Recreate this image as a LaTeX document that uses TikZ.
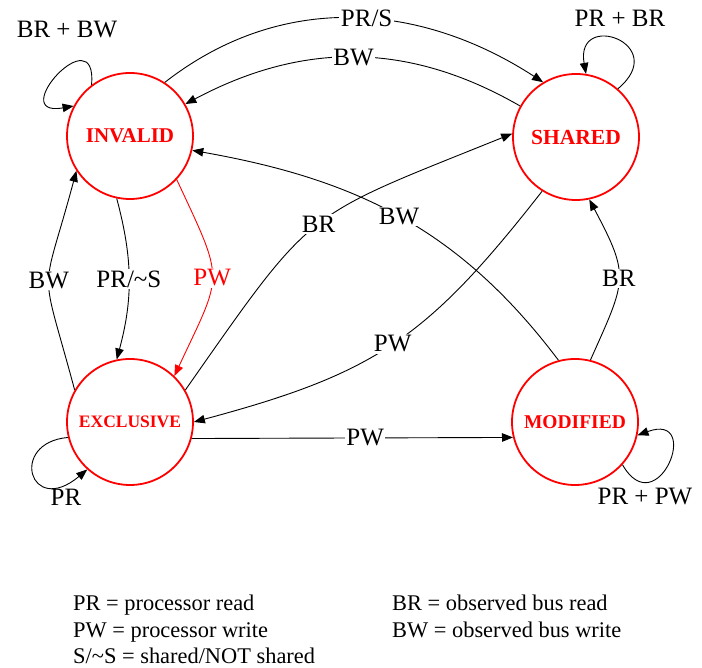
\documentclass[tikz,border=0pt]{standalone}
\usepackage{fontspec}
\setmainfont{Liberation Serif}
\usetikzlibrary{arrows.meta}
\begin{document}
\begin{tikzpicture}[x=1pt,y=1pt,
  state/.style={circle,draw=red,line width=1.8pt,minimum size=126pt,inner sep=0pt,text=red},
  edge/.style={line width=0.9pt,-{Triangle[length=11pt,width=8.5pt]}},
  lbl/.style={font=\fontsize{25}{25}\selectfont,fill=white,inner sep=1.5pt},
  free/.style={font=\fontsize{25}{25}\selectfont,inner sep=0pt},
  leg/.style={font=\fontsize{22.4}{24}\selectfont,anchor=base west,inner sep=0pt}]
\useasboundingbox (0,0) rectangle (702,668);
% states
\node[state,font=\bfseries\fontsize{21}{21}\selectfont] (inv) at (130,532) {INVALID};
\node[state,font=\bfseries\fontsize{21.5}{21.5}\selectfont] (shr) at (576,531) {SHARED};
\node[state,font=\bfseries\fontsize{17.5}{17.5}\selectfont] (exc) at (130,246) {EXCLUSIVE};
\node[state,font=\bfseries\fontsize{19.5}{19.5}\selectfont] (mod) at (575,246) {MODIFIED};
% top arcs
\draw[edge] (inv.57) to[out=38,in=147] node[lbl,pos=0.54]{PR/S} (shr.121);
\draw[edge] (shr.151) to[out=150,in=28] node[lbl,pos=0.5]{BW} (inv.30);
% self loops
\draw[edge] (inv.127) .. controls +(85:70) and +(190:70) .. (inv.152);
\node[free] (lbbrbw) at (67,638) {BR + BW};
\draw[edge] (shr.49) .. controls +(40:70) and +(100:65) .. (shr.81);
\node[free] (lbprbr) at (620,650) {PR + BR};
\draw[edge] (exc.-166) .. controls +(185:60) and +(-140:75) .. (exc.-132);
\node[free] (lbpr) at (66,171) {PR};
\draw[edge] (mod.-42) .. controls +(-60:70) and +(20:70) .. (mod.-12);
\node[free] (lbprpw) at (645,171) {PR + PW};
% left verticals
\draw[edge] (inv.-102) to[out=-75,in=75] node[lbl,pos=0.5]{PR/\textasciitilde S} (exc.102);
\draw[edge] (exc.150) to[out=105,in=-105,looseness=1.6] node[lbl,pos=0.5]{BW} (inv.-147);
\draw[edge,red] (inv.-43) to[out=-65,in=65,looseness=1.5] node[lbl,pos=0.5,text=red]{PW} (exc.46);
% diagonals
\draw[edge] (exc.30) to[out=55,in=-158,looseness=1.4] node[lbl,pos=0.5]{BR} (shr.177);
\draw[edge] (shr.-122) to[out=-128,in=15,looseness=1.15] node[lbl,pos=0.5]{PW} (exc.0);
\draw[edge] (mod.105) to[out=127,in=-10] node[lbl,pos=0.5]{BW} (inv.-13);
% right vertical
\draw[edge] (mod.76) to[out=66,in=-62,looseness=1.4] node[lbl,pos=0.5]{BR} (shr.-78);
% bottom horizontal
\draw[edge] (exc.-15) -- node[lbl,pos=0.54]{PW} (mod.-166);
% legend
\node[leg] (l1) at (73,57) {PR = processor read};
\node[leg] (l2) at (73,30) {PW = processor write};
\node[leg] (l3) at (73,4) {S/\textasciitilde S = shared/NOT shared};
\node[leg] (l4) at (392,57) {BR = observed bus read};
\node[leg] (l5) at (392,30) {BW = observed bus write};
\end{tikzpicture}
\end{document}
